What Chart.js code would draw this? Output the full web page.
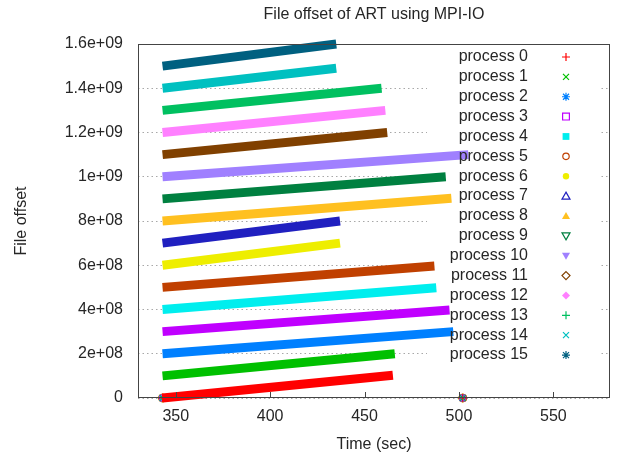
<!DOCTYPE html>
<html><head><meta charset="utf-8">
<script src="https://cdn.jsdelivr.net/npm/chart.js@4/dist/chart.umd.min.js"></script>
<style>html,body{margin:0;padding:0;background:#fff}#wrap{width:618px;height:458px;position:relative}</style>
</head><body><div id="wrap"><canvas id="c"></canvas></div>
<script>
const chartTitle = 'File offset of ART using MPI-IO';
const xTitle = 'Time (sec)';
const yTitle = 'File offset';
const processNames = ['process 0','process 1','process 2','process 3','process 4','process 5','process 6','process 7','process 8','process 9','process 10','process 11','process 12','process 13','process 14','process 15'];
const startTime = [343,343,343,343,343,343,343,343,343,343,343,343,343,343,343,343];
const endTime = [465,466,497,495,488,487,437,437,496,493,505,462,461,459,435,435];
const startOffset = [0,1e8,2e8,3e8,4e8,5e8,6e8,7e8,8e8,9e8,1.0e9,1.1e9,1.2e9,1.3e9,1.4e9,1.5e9];
const endOffset = [1.03e8,2.0e8,3.0e8,3.98e8,4.98e8,5.97e8,7.0e8,8.0e8,9.03e8,1.0e9,1.1e9,1.2e9,1.3e9,1.4e9,1.49e9,1.6e9];
const strayTimes = [343, 502];
const strayOffsets = [0, 0];
const colors = ['#ff0000','#00c000','#0080ff','#c000ff','#00eeee','#c04000','#eeee00','#2020c0','#ffc020','#008040','#a080ff','#804000','#ff80ff','#00c060','#00c0c0','#006080'];
const markers = ['plus','x','star','square','squareF','circle','circleF','tri','triF','itri','itriF','diamond','diamondF','plus','x','star'];
const xTicks = [350, 400, 450, 500, 550];
const yTicks = [0, 2e8, 4e8, 6e8, 8e8, 1e9, 1.2e9, 1.4e9, 1.6e9];
const yTickLabels = ['0','2e+08','4e+08','6e+08','8e+08','1e+09','1.2e+09','1.4e+09','1.6e+09'];

const FONT = '"Liberation Sans", Arial, sans-serif';
const TXT = '#262626';

function cjsStyle(m){
  const base = m.replace('F','');
  return {plus:'cross', x:'crossRot', star:'star', square:'rect', circle:'circle', tri:'triangle', itri:'triangle', diamond:'rectRot'}[base];
}

const datasets = [];
processNames.forEach((name, i) => {
  datasets.push({
    label: name,
    data: [{x: startTime[i], y: startOffset[i]}, {x: endTime[i], y: endOffset[i]}],
    showLine: true,
    borderColor: colors[i],
    backgroundColor: colors[i],
    borderWidth: 9,
    borderCapStyle: 'butt',
    pointRadius: 0,
    pointHoverRadius: 0,
    clip: false
  });
});
processNames.forEach((name, i) => {
  const filled = markers[i].endsWith('F');
  datasets.push({
    label: name + ' (stray)',
    data: strayTimes.map((t, j) => ({x: t, y: strayOffsets[j]})),
    showLine: false,
    borderColor: colors[i],
    backgroundColor: filled ? colors[i] : 'rgba(255,255,255,0)',
    pointStyle: cjsStyle(markers[i]),
    pointRotation: markers[i].startsWith('itri') ? 180 : 0,
    pointRadius: 4,
    pointBorderWidth: 1,
    clip: false
  });
});

function drawMarker(ctx, m, x, y, r, color){
  ctx.save();
  ctx.strokeStyle = color; ctx.fillStyle = color; ctx.lineWidth = 1.2;
  const filled = m.endsWith('F');
  const base = m.replace('F','');
  ctx.beginPath();
  if (base === 'plus' || base === 'star') { ctx.moveTo(x-r,y); ctx.lineTo(x+r,y); ctx.moveTo(x,y-r); ctx.lineTo(x,y+r); }
  if (base === 'x' || base === 'star') { const d = r*0.75; ctx.moveTo(x-d,y-d); ctx.lineTo(x+d,y+d); ctx.moveTo(x-d,y+d); ctx.lineTo(x+d,y-d); }
  if (base === 'plus' || base === 'x' || base === 'star') { ctx.stroke(); ctx.restore(); return; }
  if (base === 'square') { ctx.rect(x-r*0.85,y-r*0.85,r*1.7,r*1.7); }
  else if (base === 'circle') { ctx.arc(x,y,r*0.8,0,Math.PI*2); }
  else if (base === 'tri') { ctx.moveTo(x,y-r); ctx.lineTo(x+r,y+r*0.75); ctx.lineTo(x-r,y+r*0.75); ctx.closePath(); }
  else if (base === 'itri') { ctx.moveTo(x,y+r); ctx.lineTo(x+r,y-r*0.75); ctx.lineTo(x-r,y-r*0.75); ctx.closePath(); }
  else if (base === 'diamond') { ctx.moveTo(x,y-r); ctx.lineTo(x+r,y); ctx.lineTo(x,y+r); ctx.lineTo(x-r,y); ctx.closePath(); }
  if (filled) ctx.fill(); else ctx.stroke();
  ctx.restore();
}

const decor = {
  id: 'decor',
  beforeDatasetsDraw(chart){
    const ctx = chart.ctx;
    ctx.save();
    ctx.fillStyle = '#ffffff';
    ctx.fillRect(427, 46, 173, 320);
    ctx.restore();
  },
  afterDatasetsDraw(chart){
    const ctx = chart.ctx, a = chart.chartArea, xs = chart.scales.x;
    ctx.save();
    ctx.strokeStyle = '#444444'; ctx.lineWidth = 1;
    ctx.strokeRect(Math.round(a.left)+0.5, Math.round(a.top)+0.5, Math.round(a.right-a.left)-1, Math.round(a.bottom-a.top)-1);
    ctx.beginPath();
    xTicks.forEach(v => { const px = Math.round(xs.getPixelForValue(v))+0.5; ctx.moveTo(px, a.bottom); ctx.lineTo(px, a.bottom-6); });
    ctx.stroke();
    ctx.fillStyle = TXT;
    ctx.font = '16px ' + FONT;
    ctx.textAlign = 'center'; ctx.textBaseline = 'middle';
    ctx.fillText(chartTitle, (a.left + a.right)/2, 15);
    ctx.textAlign = 'right';
    processNames.forEach((name, i) => {
      const y = 57 + i * 19.87;
      ctx.fillStyle = TXT;
      ctx.fillText(name, 528, y);
      drawMarker(ctx, markers[i], 566, y, 4, colors[i]);
    });
    ctx.restore();
  }
};

new Chart(document.getElementById('c'), {
  type: 'scatter',
  data: { datasets },
  options: {
    responsive: true,
    maintainAspectRatio: false,
    animation: false,
    events: [],
    layout: { padding: { top: 44, right: 8, left: 0, bottom: 0 } },
    plugins: { legend: { display: false }, title: { display: false }, tooltip: { enabled: false } },
    scales: {
      x: {
        type: 'linear', min: 330, max: 580,
        afterBuildTicks: s => { s.ticks = xTicks.map(v => ({value: v})); },
        afterFit: s => { s.height = 60; },
        grid: { display: false, drawTicks: false },
        border: { display: false },
        ticks: { color: TXT, font: { family: FONT, size: 16 }, padding: 9, maxRotation: 0, autoSkip: false },
        title: { display: true, text: xTitle, color: TXT, font: { family: FONT, size: 16 }, padding: { top: 4, bottom: 4 } }
      },
      y: {
        type: 'linear', min: 0, max: 1.6e9,
        afterBuildTicks: s => { s.ticks = yTicks.map(v => ({value: v})); },
        afterFit: s => { s.width = 138; },
        grid: { color: '#a8a8a8', lineWidth: 1, drawTicks: false },
        border: { display: false, dash: [1.5, 3] },
        ticks: { color: TXT, font: { family: FONT, size: 16 }, padding: 15, autoSkip: false,
          callback: (v, i) => yTickLabels[i] },
        title: { display: true, text: yTitle, color: TXT, font: { family: FONT, size: 16 }, padding: { top: 12, bottom: 4 } }
      }
    }
  },
  plugins: [decor]
});
</script>
</body></html>
